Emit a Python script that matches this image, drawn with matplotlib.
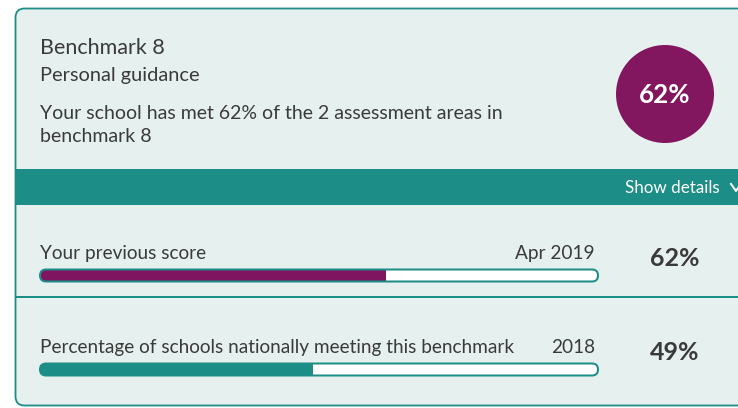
import matplotlib
matplotlib.use("Agg")
import matplotlib.pyplot as plt
from matplotlib.patches import FancyBboxPatch, Circle, Rectangle

# ---- data ----
title = "Benchmark 8"
subtitle = "Personal guidance"
summary = "Your school has met 62% of the 2 assessment areas in\nbenchmark 8"
overall_score = 62
row_labels = ["Your previous score", "Percentage of schools nationally meeting this benchmark"]
row_dates = ["Apr 2019", "2018"]
row_values = [62, 49]
row_colors = ["#7f1460", "#1c8d87"]

TEAL = "#1c8d87"
BG = "#e6f0ef"
TXT = "#3a3a3a"
PURPLE = "#82175f"

plt.rcParams['font.family'] = ['Lato', 'DejaVu Sans']

W, H = 738, 408
fig = plt.figure(figsize=(W / 100, H / 100), dpi=100)
ax = fig.add_axes([0, 0, 1, 1])
ax.set_xlim(0, W)
ax.set_ylim(H, 0)
ax.axis("off")

def pt(px):
    return px * 0.72

# card
card = FancyBboxPatch((15.5, 8.5), 760, 397, boxstyle="round,pad=0,rounding_size=9",
                      facecolor=BG, edgecolor=TEAL, linewidth=pt(1.8))
ax.add_patch(card)
# band
ax.add_patch(Rectangle((16, 169), W, 36, facecolor=TEAL, edgecolor="none"))
# divider
ax.plot([16, W], [297, 297], color=TEAL, lw=pt(2), solid_capstyle="butt")

# header texts
ax.text(40, 48, title, fontsize=pt(21.5), color=TXT, va="center", ha="left")
ax.text(40, 75, subtitle, fontsize=pt(20), color=TXT, va="center", ha="left")
ax.text(40, 125, summary, fontsize=pt(19.5), color=TXT, va="center", ha="left", linespacing=1.45)

# circle
ax.add_patch(Circle((665, 94), 49, facecolor=PURPLE, edgecolor="none"))
ax.text(665, 95, f"{overall_score}%", fontsize=pt(26), color="white", fontweight="bold",
        ha="center", va="center")

ax.text(720, 188, "Show details", fontsize=pt(17), color="white", ha="right", va="center")
ax.plot([731, 736, 741], [184, 191, 184], color="white", lw=pt(2), clip_on=True)

# rows
bar_x0, bar_x1 = 40, 598
row_ys = [275.5, 369.5]
bar_h = 12
for lab, date, val, col, yc in zip(row_labels, row_dates, row_values, row_colors, row_ys):
    ax.text(40, yc - 22, lab, fontsize=pt(19), color=TXT, ha="left", va="center")
    ax.text(595, yc - 22, date, fontsize=pt(19), color=TXT, ha="right", va="center")
    ax.text(675, yc - 17, f"{val}%", fontsize=pt(25), color=TXT, ha="center", va="center",
            fontweight="bold")
    track = FancyBboxPatch((bar_x0, yc - bar_h / 2), bar_x1 - bar_x0, bar_h,
                           boxstyle=f"round,pad=0,rounding_size={bar_h/2}",
                           facecolor="white", edgecolor="none", transform=ax.transData)
    ax.add_patch(track)
    # inset axes for the value scale
    bax = fig.add_axes([bar_x0 / W, 1 - (yc + bar_h / 2) / H, (bar_x1 - bar_x0) / W, bar_h / H])
    bax.set_xlim(0, 100)
    bax.set_ylim(-0.5, 0.5)
    bax.axis("off")
    bars = bax.barh([0], [val], height=1.0, left=0, color=col, edgecolor="none")
    for b in bars:
        b.set_clip_path(track)
    border = FancyBboxPatch((bar_x0, yc - bar_h / 2), bar_x1 - bar_x0, bar_h,
                            boxstyle=f"round,pad=0,rounding_size={bar_h/2}",
                            facecolor="none", edgecolor=TEAL, linewidth=pt(2))
    fig.add_artist(border)
    border.set_transform(ax.transData)

fig.savefig("out.png", dpi=100)
